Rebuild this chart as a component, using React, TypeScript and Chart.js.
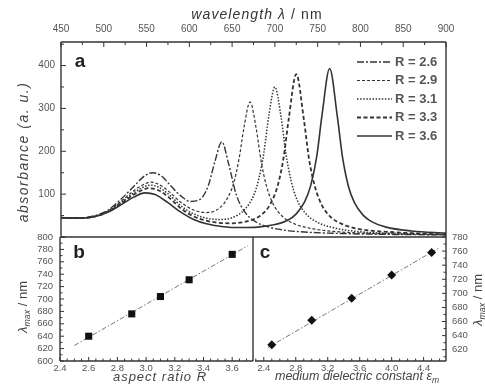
import React, { useEffect, useRef } from "react";
import { Chart, registerables } from "chart.js";

Chart.register(...registerables);

const FONT = "'Liberation Sans', Arial, Helvetica, sans-serif";

// ---------- Panel a: absorbance spectra ----------
const seriesLabels = ["R = 2.6", "R = 2.9", "R = 3.1", "R = 3.3", "R = 3.6"];

const wl26 = [450, 470, 490, 505, 520, 535, 548, 557, 567, 578, 590, 601, 612, 622, 630, 638, 646, 655, 665, 678, 695, 715, 740, 780, 840, 900];
const abs26 = [45, 44, 50, 63, 88, 118, 143, 150, 143, 120, 96, 83, 87, 119, 177, 222, 170, 98, 58, 35, 22, 15, 11, 8, 6, 5];

const wl29 = [450, 470, 490, 505, 520, 535, 548, 555, 565, 578, 590, 605, 620, 635, 645, 652, 658, 664, 671, 678, 684, 690, 698, 710, 725, 745, 775, 820, 900];
const abs29 = [45, 44, 49, 61, 83, 108, 124, 128, 122, 103, 81, 63, 57, 67, 92, 127, 181, 257, 315, 255, 176, 120, 77, 46, 29, 19, 12, 8, 5];

const wl31 = [450, 470, 490, 505, 520, 535, 548, 555, 565, 578, 590, 605, 620, 635, 650, 665, 675, 681, 687, 693, 700, 707, 713, 719, 725, 735, 750, 770, 800, 850, 900];
const abs31 = [45, 44, 48, 59, 80, 103, 118, 121, 115, 96, 73, 54, 44, 41, 45, 65, 96, 134, 195, 284, 350, 283, 193, 131, 91, 57, 34, 21, 12, 8, 6];

const wl33 = [450, 470, 490, 505, 520, 535, 548, 552, 565, 578, 590, 605, 620, 635, 650, 670, 685, 695, 703, 710, 716, 725, 734, 740, 747, 755, 765, 780, 800, 840, 900];
const abs33 = [45, 44, 48, 59, 78, 99, 112, 114, 108, 89, 67, 48, 38, 33, 32, 38, 53, 78, 118, 183, 273, 380, 272, 181, 116, 74, 47, 29, 18, 11, 6];

const wl36 = [450, 470, 490, 505, 520, 535, 548, 560, 575, 590, 605, 620, 640, 660, 680, 700, 715, 725, 735, 742, 749, 755, 764, 773, 779, 786, 793, 803, 813, 830, 860, 900];
const abs36 = [45, 44, 48, 58, 75, 93, 103, 99, 80, 58, 41, 31, 24, 22, 23, 29, 39, 54, 83, 121, 189, 283, 393, 281, 187, 118, 80, 51, 36, 23, 14, 9];

const wavelengthsAll = [wl26, wl29, wl31, wl33, wl36];
const absorbanceAll = [abs26, abs29, abs31, abs33, abs36];

// ---------- Panel b: lambda_max vs aspect ratio ----------
const ratioR = [2.6, 2.9, 3.1, 3.3, 3.6];
const lambdaMaxB = [640, 676, 704, 731, 772];
const fitBx = [2.5, 3.71];
const fitBy = [625, 786];

// ---------- Panel c: lambda_max vs medium dielectric constant ----------
const epsM = [2.5, 3.0, 3.5, 4.0, 4.5];
const lambdaMaxC = [627, 662, 693, 726, 758];
const fitCx = [2.45, 4.6];
const fitCy = [623, 765];

// ---------- styles ----------
const lineStyles = [
  { dash: [7, 2, 2, 2], width: 1.4 },
  { dash: [3, 2], width: 1.2 },
  { dash: [1.5, 1.6], width: 1.5 },
  { dash: [4, 2.5], width: 1.8 },
  { dash: [], width: 1.6 },
];

const frameTicks = {
  id: "frameTicks",
  afterDatasetsDraw(chart: any, _args: any, opts: any) {
    const { ctx, chartArea: ca } = chart;
    ctx.save();
    ctx.strokeStyle = "#333";
    ctx.lineWidth = 1;
    for (const spec of opts.axes || []) {
      const scale = chart.scales[spec.id];
      const start = Math.ceil(scale.min / spec.minor - 1e-6);
      const end = Math.floor(scale.max / spec.minor + 1e-6);
      for (let k = start; k <= end; k++) {
        const v = k * spec.minor;
        const r = v / spec.major;
        const isMajor = Math.abs(r - Math.round(r)) < 1e-6;
        const len = isMajor ? spec.majorLen : spec.minorLen;
        const p = scale.getPixelForValue(v);
        ctx.beginPath();
        if (spec.side === "top") {
          ctx.moveTo(p, ca.top);
          ctx.lineTo(p, ca.top + len);
        } else if (spec.side === "bottom") {
          ctx.moveTo(p, ca.bottom);
          ctx.lineTo(p, ca.bottom - len);
        } else if (spec.side === "left") {
          ctx.moveTo(ca.left, p);
          ctx.lineTo(ca.left + len, p);
        } else {
          ctx.moveTo(ca.right, p);
          ctx.lineTo(ca.right - len, p);
        }
        ctx.stroke();
      }
    }
    ctx.lineWidth = 1.4;
    ctx.strokeStyle = "#333";
    const skip: string[] = opts.skip || [];
    const edges: Array<[string, number, number, number, number]> = [
      ["top", ca.left, ca.top, ca.right, ca.top],
      ["bottom", ca.left, ca.bottom, ca.right, ca.bottom],
      ["left", ca.left, ca.top, ca.left, ca.bottom],
      ["right", ca.right, ca.top, ca.right, ca.bottom],
    ];
    for (const [name, x1, y1, x2, y2] of edges) {
      if (skip.includes(name)) continue;
      ctx.beginPath();
      ctx.moveTo(x1, y1);
      ctx.lineTo(x2, y2);
      ctx.stroke();
    }
    ctx.restore();
  },
};

const richText = {
  id: "richText",
  afterDraw(chart: any, _args: any, opts: any) {
    const ctx = chart.ctx;
    for (const item of opts.items || []) {
      ctx.save();
      ctx.translate(item.x, item.y);
      if (item.rotate) ctx.rotate(item.rotate);
      (ctx as any).letterSpacing = (item.spacing || 0) + "px";
      let total = 0;
      const parts = item.parts.map((p: any) => {
        const size = p.sub ? item.size * 0.68 : item.size;
        const font = `${p.italic ? "italic " : ""}${p.bold ? "bold " : ""}${size}px ${FONT}`;
        ctx.font = font;
        const w = ctx.measureText(p.text).width;
        total += w;
        return { ...p, font, w };
      });
      let x = -total / 2;
      ctx.textBaseline = "middle";
      ctx.textAlign = "left";
      ctx.fillStyle = item.color || "#333";
      for (const p of parts) {
        ctx.font = p.font;
        ctx.fillText(p.text, x, p.sub ? item.size * 0.32 : 0);
        x += p.w;
      }
      ctx.restore();
    }
  },
};

const lineLegend = {
  id: "lineLegend",
  afterDraw(chart: any, _args: any, opts: any) {
    if (!opts || !opts.show) return;
    const ctx = chart.ctx;
    chart.data.datasets.forEach((ds: any, i: number) => {
      const y = opts.y + i * opts.dy;
      ctx.save();
      ctx.strokeStyle = ds.borderColor;
      ctx.lineWidth = ds.borderWidth;
      ctx.setLineDash(ds.borderDash || []);
      ctx.beginPath();
      ctx.moveTo(opts.x, y);
      ctx.lineTo(opts.x + opts.len, y);
      ctx.stroke();
      ctx.setLineDash([]);
      ctx.font = opts.font;
      ctx.fillStyle = opts.color;
      ctx.textBaseline = "middle";
      ctx.textAlign = "left";
      ctx.fillText(ds.label, opts.x + opts.len + opts.gap, y);
      ctx.restore();
    });
  },
};

const tickFont = (size: number) => ({ family: FONT, size });

function configA(): any {
  return {
    type: "line",
    data: {
      datasets: seriesLabels.map((label, i) => ({
        label,
        data: wavelengthsAll[i].map((x, j) => ({ x, y: absorbanceAll[i][j] })),
        borderColor: "#333",
        borderWidth: lineStyles[i].width,
        borderDash: lineStyles[i].dash,
        pointRadius: 0,
        fill: false,
        cubicInterpolationMode: "monotone",
      })),
    },
    options: {
      animation: false,
      responsive: false,
      events: [],
      layout: { padding: { left: 0, right: 39, top: 0, bottom: 3 } },
      scales: {
        x: {
          type: "linear",
          position: "top",
          min: 450,
          max: 900,
          ticks: { stepSize: 50, includeBounds: false, font: tickFont(10), color: "#555", padding: 7, maxRotation: 0, autoSkip: false },
          grid: { display: false, drawTicks: false },
          border: { display: false },
          afterFit: (s: any) => { s.height = 42; s.paddingLeft = 0; s.paddingRight = 0; },
        },
        y: {
          type: "linear",
          min: 0,
          max: 455,
          ticks: { stepSize: 100, includeBounds: false, font: tickFont(10), color: "#555", padding: 6, callback: (v: any) => (v === 0 ? "" : String(v)) },
          grid: { display: false, drawTicks: false },
          border: { display: false },
          afterFit: (s: any) => { s.width = 61; s.paddingTop = 0; s.paddingBottom = 0; },
        },
      },
      plugins: {
        legend: { display: false },
        tooltip: { enabled: false },
        frameTicks: {
          axes: [
            { id: "x", side: "top", major: 50, minor: 25, majorLen: 5, minorLen: 3 },
            { id: "y", side: "left", major: 100, minor: 50, majorLen: 5, minorLen: 3 },
          ],
        },
        lineLegend: { show: true, x: 357, y: 62, dy: 18.5, len: 35, gap: 3, font: `bold 13px ${FONT}`, color: "#555" },
        richText: {
          items: [
            { x: 257, y: 15, size: 14, spacing: 1.1, color: "#333", parts: [{ text: "wavelength λ", italic: true }, { text: " / nm" }] },
            { x: 24, y: 152, size: 14, spacing: 1.5, rotate: -Math.PI / 2, color: "#444", parts: [{ text: "absorbance (a. u.)", italic: true }] },
            { x: 80, y: 62, size: 19, color: "#222", parts: [{ text: "a", bold: true }] },
          ],
        },
      },
    },
    plugins: [frameTicks, lineLegend, richText],
  };
}

function configB(): any {
  return {
    type: "scatter",
    data: {
      datasets: [
        {
          label: "λmax",
          data: ratioR.map((x, i) => ({ x, y: lambdaMaxB[i] })),
          pointStyle: "rect",
          pointRadius: 5,
          backgroundColor: "#111",
          borderColor: "#111",
          borderWidth: 0,
        },
        {
          type: "line",
          label: "fit",
          data: fitBx.map((x, i) => ({ x, y: fitBy[i] })),
          borderColor: "#777",
          borderWidth: 1,
          borderDash: [5, 2, 1.5, 2],
          pointRadius: 0,
          showLine: true,
        },
      ],
    },
    options: {
      animation: false,
      responsive: false,
      events: [],
      layout: { padding: { left: 0, right: 3, top: 7, bottom: 0 } },
      scales: {
        x: {
          type: "linear",
          position: "bottom",
          min: 2.4,
          max: 3.745,
          ticks: { stepSize: 0.2, includeBounds: false, font: tickFont(9.5), color: "#555", padding: 2, maxRotation: 0, autoSkip: false, callback: (v: any) => Number(v).toFixed(1) },
          grid: { display: false, drawTicks: false },
          border: { display: false },
          afterFit: (s: any) => { s.height = 29; s.paddingLeft = 0; s.paddingRight = 0; },
        },
        y: {
          type: "linear",
          min: 600,
          max: 800,
          ticks: { stepSize: 20, includeBounds: false, font: tickFont(9.5), color: "#555", padding: 7, autoSkip: false },
          grid: { display: false, drawTicks: false },
          border: { display: false },
          afterFit: (s: any) => { s.width = 60; s.paddingTop = 0; s.paddingBottom = 0; },
        },
      },
      plugins: {
        legend: { display: false },
        tooltip: { enabled: false },
        frameTicks: {
          skip: ["top"],
          axes: [
            { id: "x", side: "bottom", major: 0.2, minor: 0.05, majorLen: 4, minorLen: 2.5 },
            { id: "y", side: "left", major: 20, minor: 10, majorLen: 4, minorLen: 2.5 },
          ],
        },
        richText: {
          items: [
            { x: 160, y: 147, size: 13, spacing: 1, color: "#444", parts: [{ text: "aspect ratio R", italic: true }] },
            { x: 23, y: 77, size: 13, rotate: -Math.PI / 2, color: "#444", parts: [{ text: "λ", italic: true }, { text: "max", italic: true, sub: true }, { text: " / nm" }] },
            { x: 79, y: 23, size: 19, color: "#222", parts: [{ text: "b", bold: true }] },
          ],
        },
      },
    },
    plugins: [frameTicks, richText],
  };
}

function configC(): any {
  return {
    type: "scatter",
    data: {
      datasets: [
        {
          label: "λmax",
          data: epsM.map((x, i) => ({ x, y: lambdaMaxC[i] })),
          pointStyle: "rectRot",
          pointRadius: 4.5,
          backgroundColor: "#111",
          borderColor: "#111",
          borderWidth: 0,
        },
        {
          type: "line",
          label: "fit",
          data: fitCx.map((x, i) => ({ x, y: fitCy[i] })),
          borderColor: "#777",
          borderWidth: 1,
          borderDash: [5, 2, 1.5, 2],
          pointRadius: 0,
          showLine: true,
        },
      ],
    },
    options: {
      animation: false,
      responsive: false,
      events: [],
      layout: { padding: { left: 5, right: 0, top: 7, bottom: 0 } },
      scales: {
        x: {
          type: "linear",
          position: "bottom",
          min: 2.29,
          max: 4.68,
          ticks: { stepSize: 0.4, includeBounds: false, font: tickFont(9.5), color: "#555", padding: 2, maxRotation: 0, autoSkip: false, callback: (v: any) => Number(v).toFixed(1) },
          grid: { display: false, drawTicks: false },
          border: { display: false },
          afterFit: (s: any) => { s.height = 29; s.paddingLeft = 0; s.paddingRight = 0; },
        },
        y: {
          type: "linear",
          position: "right",
          min: 604,
          max: 780,
          ticks: { stepSize: 20, includeBounds: false, font: tickFont(9.5), color: "#555", padding: 6, autoSkip: false },
          grid: { display: false, drawTicks: false },
          border: { display: false },
          afterFit: (s: any) => { s.width = 39; s.paddingTop = 0; s.paddingBottom = 0; },
        },
      },
      plugins: {
        legend: { display: false },
        tooltip: { enabled: false },
        frameTicks: {
          skip: ["top", "left"],
          axes: [
            { id: "x", side: "bottom", major: 0.4, minor: 0.1, majorLen: 4, minorLen: 2.5 },
            { id: "y", side: "right", major: 20, minor: 10, majorLen: 4, minorLen: 2.5 },
          ],
        },
        richText: {
          items: [
            { x: 107, y: 147, size: 12.5, color: "#444", parts: [{ text: "medium dielectric constant ε", italic: true }, { text: "m", italic: true, sub: true }] },
            { x: 228, y: 70, size: 13, rotate: -Math.PI / 2, color: "#444", parts: [{ text: "λ", italic: true }, { text: "max", italic: true, sub: true }, { text: " / nm" }] },
            { x: 15, y: 23, size: 19, color: "#222", parts: [{ text: "c", bold: true }] },
          ],
        },
      },
    },
    plugins: [frameTicks, richText],
  };
}

export default function App() {
  const aRef = useRef<HTMLCanvasElement | null>(null);
  const bRef = useRef<HTMLCanvasElement | null>(null);
  const cRef = useRef<HTMLCanvasElement | null>(null);

  useEffect(() => {
    const ca = new Chart(aRef.current as HTMLCanvasElement, configA());
    const cb = new Chart(bRef.current as HTMLCanvasElement, configB());
    const cc = new Chart(cRef.current as HTMLCanvasElement, configC());
    return () => {
      ca.destroy();
      cb.destroy();
      cc.destroy();
    };
  }, []);

  return (
    <div style={{ position: "absolute", left: 0, top: 0, width: 485, height: 390, background: "#fff", overflow: "hidden" }}>
      <canvas ref={aRef} width={485} height={240} style={{ position: "absolute", left: 0, top: 0, width: 485, height: 240 }} />
      <canvas ref={bRef} width={258} height={160} style={{ position: "absolute", left: 0, top: 230, width: 258, height: 160 }} />
      <canvas ref={cRef} width={235} height={160} style={{ position: "absolute", left: 250, top: 230, width: 235, height: 160 }} />
    </div>
  );
}
